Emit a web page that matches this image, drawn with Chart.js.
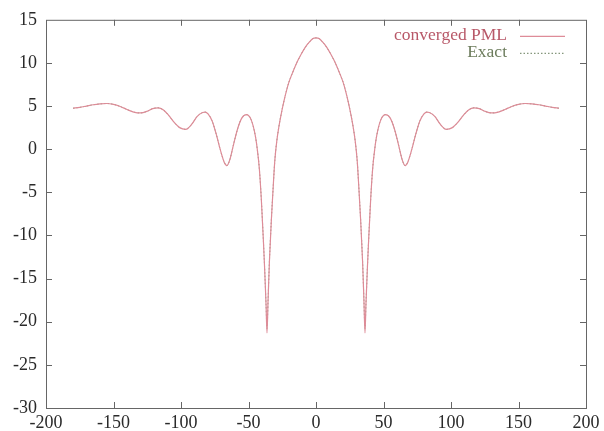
<!DOCTYPE html>
<html>
<head>
<meta charset="utf-8">
<script src="https://cdn.jsdelivr.net/npm/chart.js@4.4.1/dist/chart.umd.min.js"></script>
<style>
  html, body { margin: 0; padding: 0; background: #fff; }
  canvas { display: block; }
</style>
</head>
<body>
<canvas id="pmlChart" width="604" height="431"></canvas>
<script>
// angle samples (left half, then right half)
const angles = [
  -180, -175, -170, -165, -160, -155, -150, -145, -140, -135, -130, -125, -121, -117, -113, -109,
  -105, -101, -96.5, -92, -88, -84, -82, -80, -77, -74, -71, -68, -66, -64, -61, -58, -55, -51.5,
  -48, -45, -43.5, -42, -40.5, -39, -38, -37, -36.3, -35.5, -34.5, -33, -31.5, -30.5, -29, -27.5, -26, -24, -22,
  -20, -17, -14, -11, -8, -5, -2.5, 0,
  2.5, 5, 8, 11, 14, 17, 20, 22, 24, 26, 27.5, 29, 30.5, 31.5, 33, 34.5, 35.5, 36.3, 37, 38, 39, 40.5, 42,
  43.5, 45, 48, 51.5, 55, 58, 61, 64, 66, 68, 71, 74, 77, 80, 82, 84, 88, 92, 96.5, 101, 105, 109,
  113, 117, 121, 125, 130, 135, 140, 145, 150, 155, 160, 165, 170, 175, 180
];

const pmlValues = [
  4.75, 4.85, 5.0, 5.15, 5.25, 5.3, 5.2, 4.95, 4.6, 4.3, 4.2, 4.4, 4.7, 4.8, 4.55, 3.9,
  3.1, 2.5, 2.3, 2.9, 3.8, 4.25, 4.3, 4.1, 3.3, 1.8, 0.0, -1.5, -1.9, -1.3, 0.6, 2.4, 3.6, 4.0,
  3.4, 1.6, 0.0, -2.2, -5.8, -10.5, -14, -18, -21.3, -17.5, -13, -8, -3.8, -1.3, 1.0, 2.6, 3.9, 5.4, 6.7,
  7.8, 9.0, 10.1, 11.0, 11.8, 12.4, 12.8, 12.9,
  12.8, 12.4, 11.8, 11.0, 10.1, 9.0, 7.8, 6.7, 5.4, 3.9, 2.6, 1.0, -1.3, -3.8, -8, -13, -17.5, -21.3, -18, -14, -10.5, -5.8, -2.2,
  0.0, 1.6, 3.4, 4.0, 3.6, 2.4, 0.6, -1.3, -1.9, -1.5, 0.0, 1.8, 3.3, 4.1, 4.3, 4.25, 3.8, 2.9, 2.3, 2.5, 3.1, 3.9,
  4.55, 4.8, 4.7, 4.4, 4.2, 4.3, 4.6, 4.95, 5.2, 5.3, 5.25, 5.15, 5.0, 4.85, 4.75
];

const exactValues = [
  4.75, 4.85, 5.0, 5.15, 5.25, 5.3, 5.2, 4.95, 4.6, 4.3, 4.2, 4.4, 4.7, 4.8, 4.55, 3.9,
  3.1, 2.5, 2.3, 2.9, 3.8, 4.25, 4.3, 4.1, 3.3, 1.8, 0.0, -1.5, -1.9, -1.3, 0.6, 2.4, 3.6, 4.0,
  3.4, 1.6, 0.0, -2.2, -5.8, -10.5, -14, -18, -20.8, -17.5, -13, -8, -3.8, -1.3, 1.0, 2.6, 3.9, 5.4, 6.7,
  7.8, 9.0, 10.1, 11.0, 11.8, 12.4, 12.8, 12.9,
  12.8, 12.4, 11.8, 11.0, 10.1, 9.0, 7.8, 6.7, 5.4, 3.9, 2.6, 1.0, -1.3, -3.8, -8, -13, -17.5, -20.8, -18, -14, -10.5, -5.8, -2.2,
  0.0, 1.6, 3.4, 4.0, 3.6, 2.4, 0.6, -1.3, -1.9, -1.5, 0.0, 1.8, 3.3, 4.1, 4.3, 4.25, 3.8, 2.9, 2.3, 2.5, 3.1, 3.9,
  4.55, 4.8, 4.7, 4.4, 4.2, 4.3, 4.6, 4.95, 5.2, 5.3, 5.25, 5.15, 5.0, 4.85, 4.75
];

const xTicks = [-200, -150, -100, -50, 0, 50, 100, 150, 200];
const yTicks = [-30, -25, -20, -15, -10, -5, 0, 5, 10, 15];
const seriesNames = ["converged PML", "Exact"];

const pmlColor = "rgba(222,140,152,1)";
const exactColor = "rgba(120,140,110,0.9)";
const axisColor = "#666";
const serif = "'Liberation Serif', 'Times New Roman', serif";

// gnuplot style box with inward ticks on every side
const frame = {
  id: "frame",
  beforeDatasetsDraw(chart) {
    const { ctx, chartArea: a, scales } = chart;
    ctx.save();
    ctx.strokeStyle = axisColor;
    ctx.lineWidth = 1;
    ctx.strokeRect(a.left + 0.5, a.top + 0.5, a.right - a.left, a.bottom - a.top);
    ctx.beginPath();
    xTicks.slice(1, -1).forEach((v) => {
      const px = Math.round(scales.x.getPixelForValue(v)) + 0.5;
      ctx.moveTo(px, a.bottom); ctx.lineTo(px, a.bottom - 6);
      ctx.moveTo(px, a.top); ctx.lineTo(px, a.top + 6);
    });
    yTicks.slice(1, -1).forEach((v) => {
      const py = Math.round(scales.y.getPixelForValue(v)) + 0.5;
      ctx.moveTo(a.left, py); ctx.lineTo(a.left + 6, py);
      ctx.moveTo(a.right, py); ctx.lineTo(a.right - 6, py);
    });
    ctx.stroke();
    ctx.restore();
  },
};

// key in the top right corner: label first, sample line after it
const key = {
  id: "key",
  afterDraw(chart) {
    const { ctx, chartArea: a } = chart;
    const rows = [
      { text: seriesNames[0], color: "#b85868", stroke: pmlColor, dash: [] },
      { text: seriesNames[1], color: "#6c7c5c", stroke: exactColor, dash: [1.5, 2] },
    ];
    ctx.save();
    ctx.font = "17.5px " + serif;
    ctx.textAlign = "right";
    ctx.textBaseline = "middle";
    rows.forEach((r, i) => {
      const y = a.top + 16 + i * 17;
      ctx.fillStyle = r.color;
      ctx.fillText(r.text, a.right - 79, y);
      ctx.strokeStyle = r.stroke;
      ctx.lineWidth = 1.2;
      ctx.setLineDash(r.dash);
      ctx.beginPath();
      ctx.moveTo(a.right - 66, y + 0.5);
      ctx.lineTo(a.right - 21, y + 0.5);
      ctx.stroke();
    });
    ctx.restore();
  },
};

const ctx = document.getElementById("pmlChart");
new Chart(ctx, {
  type: "line",
  data: {
    labels: angles,
    datasets: [
      {
        label: seriesNames[0],
        data: angles.map((a, i) => ({ x: a, y: pmlValues[i] })),
        borderColor: pmlColor,
        borderWidth: 1.2,
        pointRadius: 0,
        cubicInterpolationMode: "monotone",
        fill: false,
      },
      {
        label: seriesNames[1],
        data: angles.map((a, i) => ({ x: a, y: exactValues[i] })),
        borderColor: exactColor,
        borderWidth: 1,
        borderDash: [1.5, 2],
        pointRadius: 0,
        cubicInterpolationMode: "monotone",
        fill: false,
      },
    ],
  },
  plugins: [frame, key],
  options: {
    responsive: false,
    animation: false,
    layout: {
      padding: { top: 17, right: 18, left: 0, bottom: 0 },
    },
    plugins: {
      legend: { display: false },
      tooltip: { enabled: false },
    },
    scales: {
      x: {
        type: "linear",
        min: -200,
        max: 200,
        afterBuildTicks: (scale) => {
          scale.ticks = xTicks.map((v) => ({ value: v }));
        },
        afterFit: (scale) => {
          scale.height = 23;
        },
        grid: { display: false, drawTicks: false },
        border: { display: false },
        ticks: {
          color: "#2a2a2a",
          padding: 4,
          maxRotation: 0,
          font: { family: serif, size: 18 },
        },
      },
      y: {
        min: -30,
        max: 15,
        afterBuildTicks: (scale) => {
          scale.ticks = yTicks.map((v) => ({ value: v }));
        },
        afterFit: (scale) => {
          scale.width = 46;
        },
        grid: { display: false, drawTicks: false },
        border: { display: false },
        ticks: {
          color: "#2a2a2a",
          padding: 9,
          font: { family: serif, size: 18 },
        },
      },
    },
  },
});
</script>
</body>
</html>
